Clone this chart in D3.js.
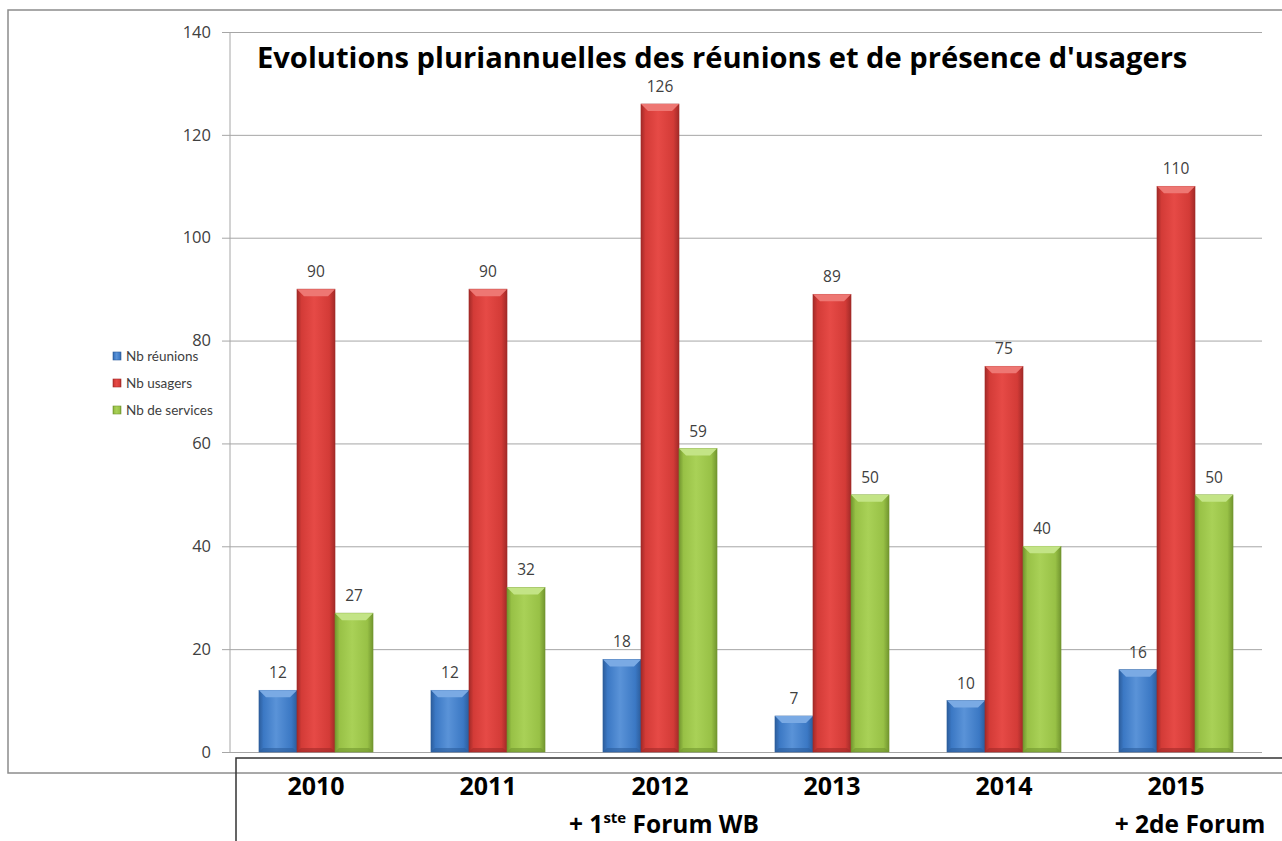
<!DOCTYPE html>
<html>
<head>
<meta charset="utf-8">
<script src="https://cdn.jsdelivr.net/npm/d3@7"></script>
<style>
  body { margin: 0; background: #fff; }
  svg { display: block; font-family: "Open Sans", sans-serif; }
</style>
</head>
<body>
<div id="chart"></div>
<script>
// Chart data
const years = ["2010", "2011", "2012", "2013", "2014", "2015"];
const notes = ["", "", "+ 1^ste^ Forum WB", "", "", "+ 2de Forum"];
const seriesNames = ["Nb réunions", "Nb usagers", "Nb de services"];
const reunions = [12, 12, 18, 7, 10, 16];
const usagers = [90, 90, 126, 89, 75, 110];
const services = [27, 32, 59, 50, 40, 50];
const yTicks = [0, 20, 40, 60, 80, 100, 120, 140];
const title = "Evolutions pluriannuelles des réunions et de présence d'usagers";

const values = [reunions, usagers, services];
const colors = [
    {dark: "#2c5d9c", mid: "#3b78c4", light: "#5a93d8", top: "#7aaae4"},
    {dark: "#a22a28", mid: "#d33b37", light: "#e64a46", top: "#ee7773"},
    {dark: "#72962f", mid: "#98c146", light: "#a9d157", top: "#c3e486"}
];

const width = 1282, height = 841;
const plot = {left: 230, right: 1262, top: 32, bottom: 752};

const svg = d3.select("#chart").append("svg")
    .attr("width", width)
    .attr("height", height);

// gradients for the bevelled bars
const defs = svg.append("defs");
colors.forEach((c, i) => {
    const g = defs.append("linearGradient")
        .attr("id", "grad" + i)
        .attr("x1", "0%").attr("x2", "100%").attr("y1", "0%").attr("y2", "0%");
    g.append("stop").attr("offset", "0%").attr("stop-color", c.dark);
    g.append("stop").attr("offset", "12%").attr("stop-color", c.mid);
    g.append("stop").attr("offset", "45%").attr("stop-color", c.light);
    g.append("stop").attr("offset", "85%").attr("stop-color", c.mid);
    g.append("stop").attr("offset", "100%").attr("stop-color", c.dark);
});

// outer frame
svg.append("rect")
    .attr("x", 8).attr("y", 10)
    .attr("width", width + 10).attr("height", 763)
    .attr("fill", "none")
    .attr("stroke", "#8c8c8c")
    .attr("stroke-width", 1.5);

// scales
const x0 = d3.scaleBand()
    .domain(years)
    .range([plot.left, plot.right])
    .paddingInner(0.337)
    .paddingOuter(0.337 / 2);

const x1 = d3.scaleBand()
    .domain(seriesNames)
    .range([0, x0.bandwidth()]);

const y = d3.scaleLinear()
    .domain([0, 140])
    .range([plot.bottom, plot.top]);

// y axis with gridlines
const yAxis = d3.axisLeft(y)
    .tickValues(yTicks)
    .tickSizeInner(plot.right - 222)
    .tickSizeOuter(0)
    .tickPadding(11);

const yAxisGroup = svg.append("g")
    .attr("transform", `translate(${plot.right}, 0)`)
    .call(yAxis);
yAxisGroup.select(".domain").remove();
yAxisGroup.selectAll(".tick line").attr("stroke", "#a6a6a6");
yAxisGroup.selectAll(".tick text")
    .attr("fill", "#404040")
    .style("font-size", "16.5px")
    .style("font-family", "'Open Sans', sans-serif");

svg.append("line")
    .attr("x1", plot.left).attr("x2", plot.left)
    .attr("y1", y(0)).attr("y2", y(140))
    .attr("stroke", "#a6a6a6");

// bars
const bevel = 7;
const groups = svg.append("g").selectAll("g")
    .data(years)
    .enter().append("g")
    .attr("transform", d => `translate(${x0(d)}, 0)`);

const bars = groups.selectAll("g")
    .data((yr, i) => seriesNames.map((s, k) => ({series: s, k: k, value: values[k][i]})))
    .enter().append("g");

bars.append("rect")
    .attr("x", d => x1(d.series))
    .attr("y", d => y(d.value))
    .attr("width", x1.bandwidth())
    .attr("height", d => y(0) - y(d.value))
    .attr("fill", d => `url(#grad${d.k})`)
    .attr("stroke", d => colors[d.k].dark)
    .attr("stroke-width", 0.6);

// top bevel
bars.append("path")
    .attr("d", d => {
        const xl = x1(d.series), xr = xl + x1.bandwidth(), yt = y(d.value);
        const b = Math.min(bevel, (y(0) - yt) / 2);
        return `M${xl},${yt}L${xr},${yt}L${xr - b},${yt + b}L${xl + b},${yt + b}Z`;
    })
    .attr("fill", d => colors[d.k].top);

// bottom bevel shading
bars.append("path")
    .attr("d", d => {
        const xl = x1(d.series), xr = xl + x1.bandwidth(), yb = y(0);
        const b = Math.min(4, (yb - y(d.value)) / 2);
        return `M${xl},${yb}L${xr},${yb}L${xr - b},${yb - b}L${xl + b},${yb - b}Z`;
    })
    .attr("fill", d => colors[d.k].dark)
    .attr("opacity", 0.6);

// value labels
bars.append("text")
    .attr("x", d => x1(d.series) + x1.bandwidth() / 2)
    .attr("y", d => y(d.value) - 12)
    .attr("text-anchor", "middle")
    .attr("fill", "#404040")
    .style("font-size", "15.5px")
    .text(d => d.value);

// title, fitted to the reference width
const titleText = svg.append("text")
    .attr("x", 257)
    .attr("y", 68)
    .attr("fill", "#000")
    .style("font-weight", "bold")
    .style("font-size", "26px")
    .text(title);
const tw = titleText.node().getComputedTextLength();
titleText.style("font-size", (26 * 931 / tw) + "px");

// legend
const legend = svg.append("g").attr("transform", "translate(113, 356)");
seriesNames.forEach((s, i) => {
    const row = legend.append("g").attr("transform", `translate(0, ${i * 27})`);
    row.append("rect")
        .attr("x", 0).attr("y", -4)
        .attr("width", 8).attr("height", 8)
        .attr("fill", `url(#grad${i})`)
        .attr("stroke", colors[i].dark)
        .attr("stroke-width", 0.6);
    row.append("text")
        .attr("x", 13).attr("y", 5)
        .attr("fill", "#404040")
        .style("font-family", "Lato, sans-serif")
        .style("font-size", "13.5px")
        .text(s);
});

// category table under the axis
svg.append("path")
    .attr("d", `M236,${height}L236,758L${width},758`)
    .attr("fill", "none")
    .attr("stroke", "#333")
    .attr("stroke-width", 1.5);

const catLabels = svg.append("g").selectAll("g")
    .data(years)
    .enter().append("g")
    .attr("transform", d => `translate(${x0(d) + x0.bandwidth() / 2}, 0)`);

catLabels.append("text")
    .attr("y", 795)
    .attr("text-anchor", "middle")
    .style("font-weight", "bold")
    .style("font-size", "25px")
    .text(d => d);

catLabels.each(function(d, i) {
    if (!notes[i]) return;
    const parts = notes[i].split("^");
    const t = d3.select(this).append("text")
        .attr("x", i === 5 ? 14 : 4)
        .attr("y", 833)
        .attr("text-anchor", "middle")
        .style("font-weight", "bold")
        .style("font-size", "24.5px");
    parts.forEach((p, j) => {
        const span = t.append("tspan").text(p);
        if (j === 1) span.attr("dy", -10).style("font-size", "15px");
        if (j === 2) span.attr("dy", 10);
    });
});
</script>
</body>
</html>
